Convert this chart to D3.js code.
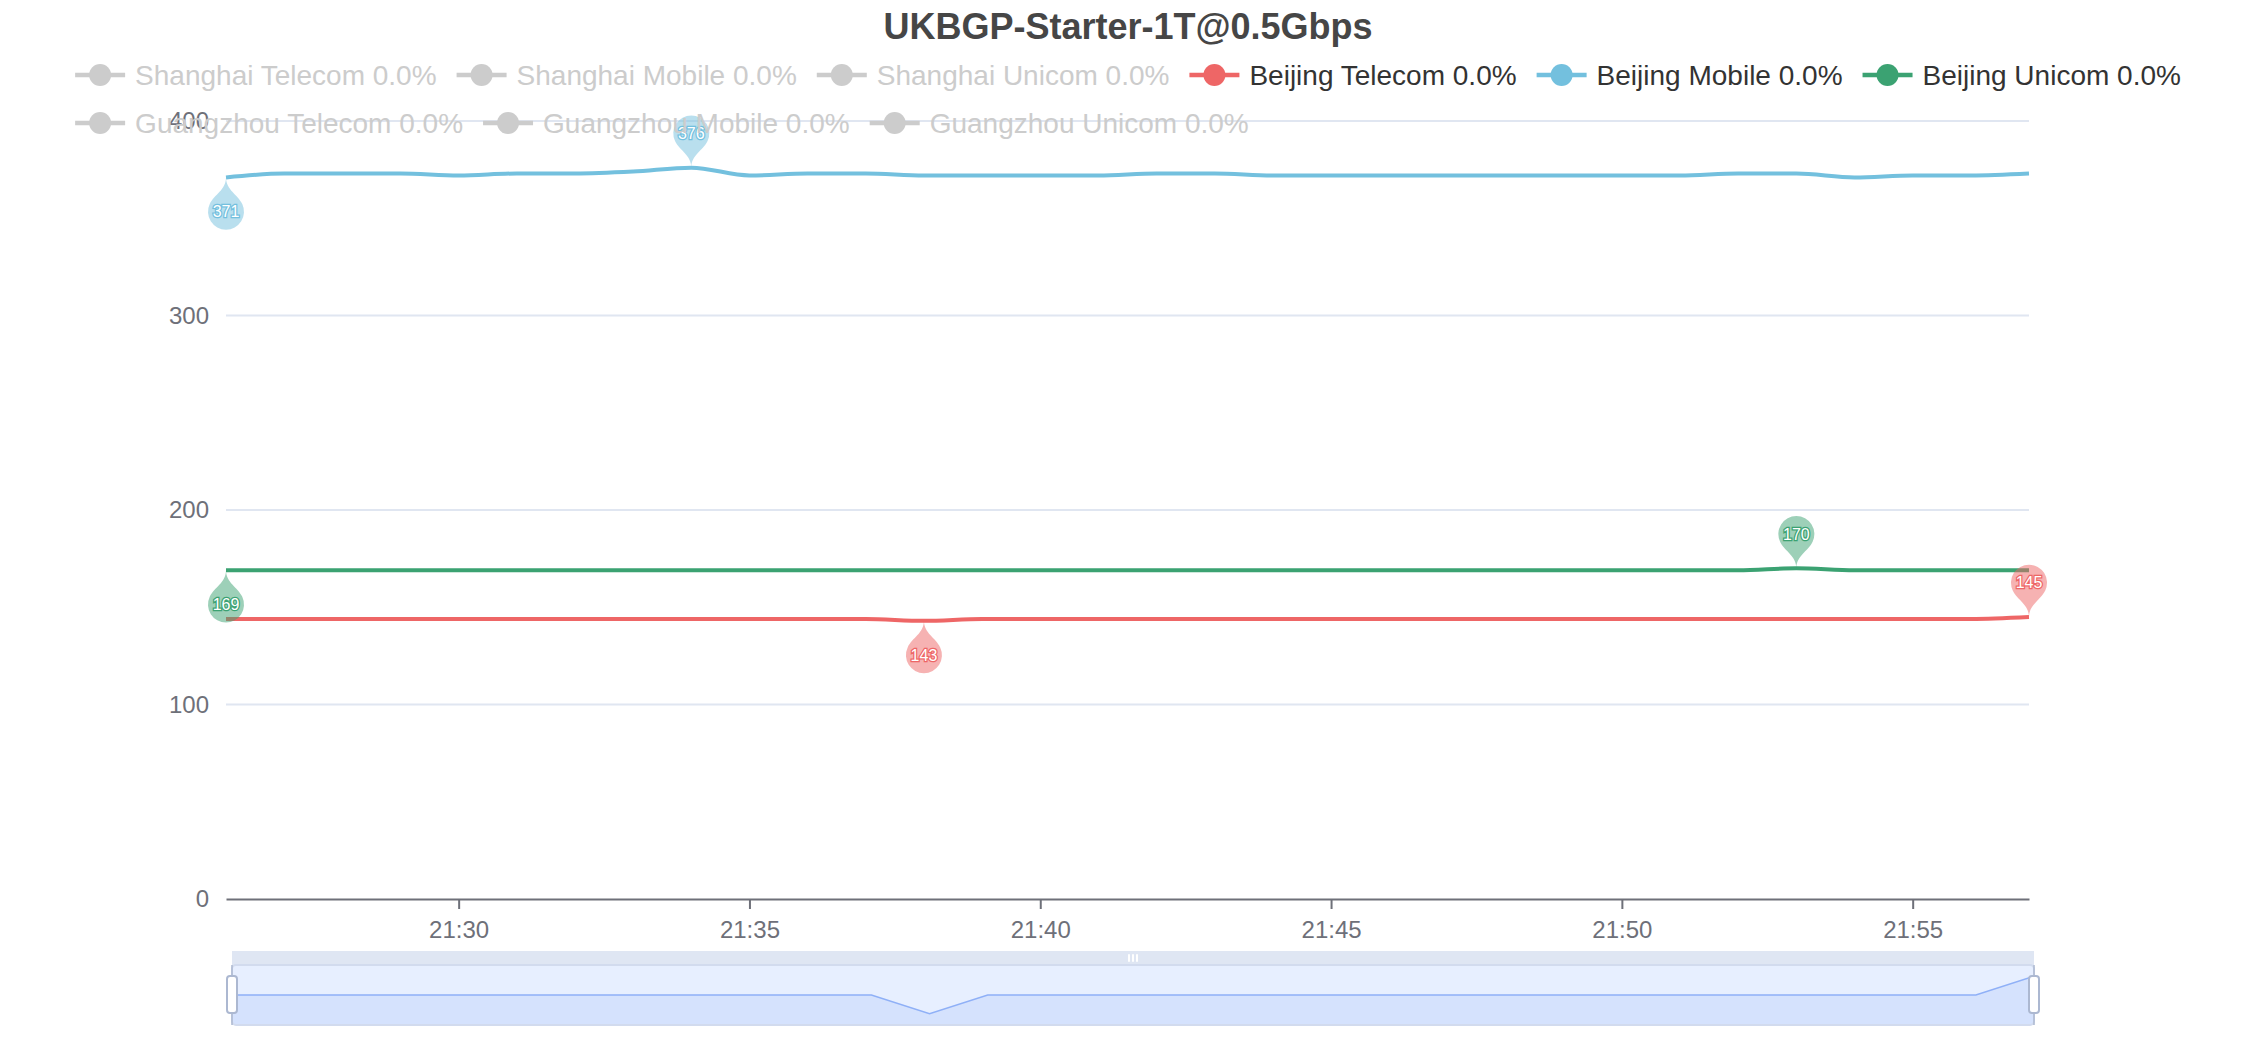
<!DOCTYPE html>
<html><head><meta charset="utf-8">
<script src="https://cdn.jsdelivr.net/npm/d3@7"></script>
<style>body{margin:0;background:#fff}svg{display:block;font-family:"Liberation Sans",Arial,Helvetica,sans-serif}</style>
</head><body><svg id="c" width="2256" height="1040"></svg>
<script>
const chartTitle = "UKBGP-Starter-1T@0.5Gbps";
const seriesNames = ["Shanghai Telecom","Shanghai Mobile","Shanghai Unicom","Beijing Telecom","Beijing Mobile","Beijing Unicom","Guangzhou Telecom","Guangzhou Mobile","Guangzhou Unicom"];
const seriesLoss = ["0.0%","0.0%","0.0%","0.0%","0.0%","0.0%","0.0%","0.0%","0.0%"];
const seriesColors = ["#5470c6","#91cc75","#fac858","#ee6666","#73c0de","#3ba272","#fc8452","#9a60b4","#ea7ccc"];
const seriesActive = [false,false,false,true,true,true,false,false,false];
const times = ["21:26","21:27","21:28","21:29","21:30","21:31","21:32","21:33","21:34","21:35","21:36","21:37","21:38","21:39","21:40","21:41","21:42","21:43","21:44","21:45","21:46","21:47","21:48","21:49","21:50","21:51","21:52","21:53","21:54","21:55","21:56","21:57"];
const beijingTelecom = [144,144,144,144,144,144,144,144,144,144,144,144,143,144,144,144,144,144,144,144,144,144,144,144,144,144,144,144,144,144,144,145];
const beijingMobile  = [371,373,373,373,372,373,373,374,376,372,373,373,372,372,372,372,373,373,372,372,372,372,372,372,372,372,373,373,371,372,372,373];
const beijingUnicom  = [169,169,169,169,169,169,169,169,169,169,169,169,169,169,169,169,169,169,169,169,169,169,169,169,169,169,169,170,169,169,169,169];
const yTicks = [0,100,200,300,400];
const xTickLabels = ["21:30","21:35","21:40","21:45","21:50","21:55"];

const plotted = [
  {name:"Beijing Telecom", idx:3, values:beijingTelecom},
  {name:"Beijing Mobile", idx:4, values:beijingMobile},
  {name:"Beijing Unicom", idx:5, values:beijingUnicom}
];

const W = 2256, H = 1040;
const svg = d3.select("#c");
const parseT = d3.timeParse("%H:%M");
const tDates = times.map(parseT);

const x = d3.scaleTime().domain(d3.extent(tDates)).range([226, 2029]);
const y = d3.scaleLinear().domain([0,400]).range([899, 121]);

// grid
const grid = svg.append("g");
yTicks.forEach(v => {
  if (v === 0) return;
  grid.append("line").attr("x1",226).attr("x2",2029).attr("y1",y(v)).attr("y2",y(v))
    .attr("stroke","#e0e6f1").attr("stroke-width",2);
});

// y labels
const yAxis = d3.axisLeft(y).tickValues(yTicks).tickSize(0).tickPadding(17);
const gy = svg.append("g").attr("transform","translate(226,0)").call(yAxis);
gy.select(".domain").remove();
gy.selectAll("text").attr("font-size",24).attr("fill","#6e7079").attr("font-family","Liberation Sans, Arial, sans-serif");

// x axis
const xTickDates = xTickLabels.map(parseT);
const xAxis = d3.axisBottom(x).tickValues(xTickDates).tickFormat(d3.timeFormat("%H:%M")).tickSize(10).tickPadding(12).tickSizeOuter(0);
const gx = svg.append("g").attr("transform","translate(0,899)").call(xAxis);
gx.select(".domain").attr("stroke","#6e7079").attr("stroke-width",2);
gx.selectAll(".tick line").attr("stroke","#6e7079").attr("stroke-width",2);
gx.selectAll("text").attr("font-size",24).attr("fill","#6e7079").attr("font-family","Liberation Sans, Arial, sans-serif");

// lines
const line = d3.line().x((d,i)=>x(tDates[i])).y(d=>y(d)).curve(d3.curveMonotoneX);
plotted.forEach(s => {
  svg.append("path").attr("d", line(s.values)).attr("fill","none")
    .attr("stroke", seriesColors[s.idx]).attr("stroke-width",4).attr("stroke-linejoin","round");
});

// pin path (tip at 0,0, bubble above)
function pinPath(S){
  const w = S/5*3, h = S, r = w/2;
  const dy = r*r/(h-r), cy = -h + r + dy;
  const a = Math.asin(dy/r), dx = Math.cos(a)*r, tanX = Math.sin(a), tanY = Math.cos(a);
  const c1 = r*0.6, c2 = r*0.7;
  return {d:`M${-dx},${cy+dy} A${r},${r} 0 1 1 ${dx},${cy+dy} C${dx-tanX*c1},${cy+dy+tanY*c1} 0,${-c2} 0,0 C0,${-c2} ${-dx+tanX*c1},${cy+dy+tanY*c1} ${-dx},${cy+dy} Z`, cy};
}
const pin = pinPath(60);
const pinsG = svg.append("g");
plotted.forEach(s => {
  const col = seriesColors[s.idx];
  const iMax = d3.maxIndex(s.values), iMin = d3.minIndex(s.values);
  [[iMax,false],[iMin,true]].forEach(([i,flip]) => {
    const px = x(tDates[i]), py = y(s.values[i]);
    const g = pinsG.append("g").attr("transform",`translate(${px},${py})`);
    g.append("path").attr("d",pin.d).attr("fill",col).attr("fill-opacity",0.5)
      .attr("transform", flip ? "rotate(180)" : null);
    g.append("text").attr("x",0).attr("y", flip ? -pin.cy : pin.cy).attr("dy","0.36em")
      .attr("text-anchor","middle").attr("font-size",16).attr("fill","#fff")
      .attr("stroke",col).attr("stroke-width",2.5).attr("paint-order","stroke")
      .text(s.values[i]);
  });
});

// title
svg.append("text").attr("x",W/2).attr("y",39).attr("text-anchor","middle")
  .attr("font-size",36).attr("font-weight","bold").attr("fill","#464646").text(chartTitle);

// legend
const legendG = svg.append("g");
const items = seriesNames.map((n,i)=>{
  const g = legendG.append("g");
  const col = seriesActive[i] ? seriesColors[i] : "#ccc";
  g.append("line").attr("x1",0).attr("x2",50).attr("y1",0).attr("y2",0).attr("stroke",col).attr("stroke-width",4.5);
  g.append("circle").attr("cx",25).attr("cy",0).attr("r",11).attr("fill",col);
  const t = g.append("text").attr("x",60).attr("y",0).attr("dy","0.36em").attr("font-size",28)
    .attr("fill", seriesActive[i] ? "#333" : "#ccc").text(n + " " + seriesLoss[i]);
  return {g, w: 60 + t.node().getComputedTextLength()};
});
const maxW = W - 20, gap = 20;
let rows = [[]], cur = 0;
items.forEach(it => {
  const add = (rows[rows.length-1].length ? gap : 0) + it.w;
  if (cur + add > maxW && rows[rows.length-1].length) { rows.push([]); cur = 0; }
  const r = rows[rows.length-1];
  it.x = r.length ? cur + gap : 0;
  cur = it.x + it.w;
  r.push(it);
});
const rowWidths = rows.map(r => { const l = r[r.length-1]; return l.x + l.w; });
const left = (W - d3.max(rowWidths))/2;
rows.forEach((r,ri) => r.forEach(it => it.g.attr("transform",`translate(${left+it.x},${75+ri*48})`)));

// data zoom slider
const sx0 = 232, sx1 = 2034, sy0 = 965, sh = 60;
const sz = svg.append("g");
const shadowVals = beijingTelecom;
const ext = d3.extent(shadowVals), off = (ext[1]-ext[0])*0.3;
const sX = d3.scaleLinear().domain([0, shadowVals.length-1]).range([sx0, sx1]);
const sY = d3.scaleLinear().domain([ext[0]-off, ext[1]+off]).range([sy0+sh, sy0]);
sz.append("rect").attr("x",sx0).attr("y",sy0).attr("width",sx1-sx0).attr("height",sh)
  .attr("fill","rgb(135,175,255)").attr("fill-opacity",0.2);
const area = d3.area().x((d,i)=>sX(i)).y0(sy0+sh).y1(d=>sY(d));
const sline = d3.line().x((d,i)=>sX(i)).y(d=>sY(d));
sz.append("path").attr("d",area(shadowVals)).attr("fill","#8fb0f7").attr("fill-opacity",0.2);
sz.append("path").attr("d",sline(shadowVals)).attr("fill","none").attr("stroke","#8fb0f7").attr("stroke-width",1.5);
sz.append("rect").attr("x",sx0).attr("y",sy0).attr("width",sx1-sx0).attr("height",sh)
  .attr("fill","none").attr("stroke","#d2dbee").attr("stroke-width",2).attr("rx",4);
sz.append("rect").attr("x",sx0).attr("y",sy0-14).attr("width",sx1-sx0).attr("height",14)
  .attr("fill","#d2dbee").attr("fill-opacity",0.7);
const gc = (sx0+sx1)/2;
[-4,0,4].forEach(dx => sz.append("rect").attr("x",gc+dx-1).attr("y",sy0-11).attr("width",2).attr("height",8).attr("rx",1).attr("fill","#fff"));
[sx0, sx1].forEach(hx => {
  sz.append("line").attr("x1",hx).attr("x2",hx).attr("y1",sy0).attr("y2",sy0+sh).attr("stroke","#acb8d1").attr("stroke-width",1.5);
  sz.append("rect").attr("x",hx-5).attr("y",sy0+11).attr("width",10).attr("height",37).attr("rx",3)
    .attr("fill","#fff").attr("stroke","#acb8d1").attr("stroke-width",2);
});
</script></body></html>
